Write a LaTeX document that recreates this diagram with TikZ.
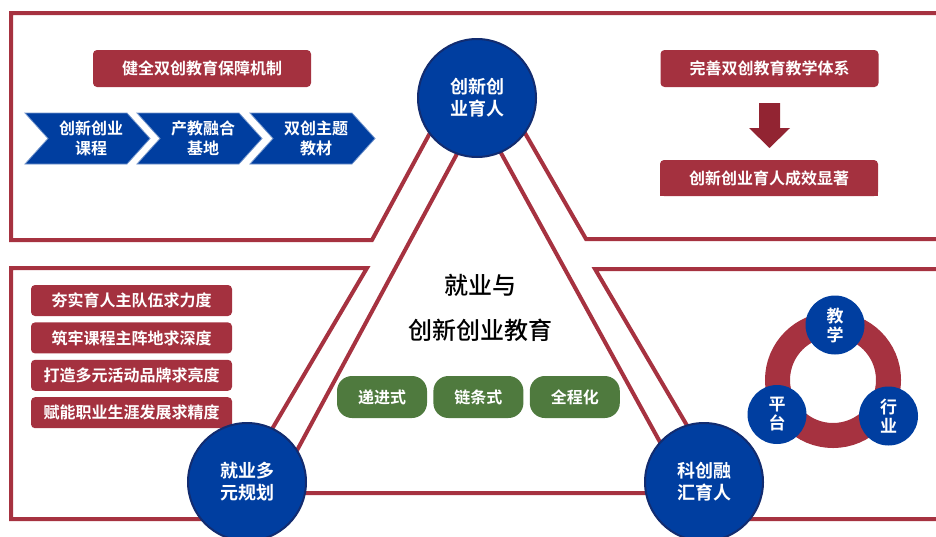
\documentclass[tikz,border=0pt]{standalone}
\usepackage{fontspec}
\setmainfont{Noto Sans CJK SC}[BoldFont={Noto Sans CJK SC Bold}]
\newfontfamily\cjkmid{Noto Sans CJK SC Medium}
\usetikzlibrary{positioning}
\definecolor{framered}{RGB}{166,50,64}
\definecolor{boxred}{RGB}{164,49,63}
\definecolor{arrowred}{RGB}{146,36,50}
\definecolor{hubblue}{RGB}{0,62,160}
\definecolor{rimblue}{RGB}{18,44,112}
\definecolor{pillgreen}{RGB}{79,122,62}
\begin{document}
\begin{tikzpicture}[x=1pt,y=-1pt,
    frame/.style={draw=framered,line width=4pt,line join=miter},
    redbox/.style={fill=boxred,rounded corners=4pt,text=white,inner sep=0pt,
      minimum width=218pt,minimum height=37pt,font=\fontsize{16}{20}\selectfont\bfseries},
    sidebox/.style={redbox,minimum width=201pt,minimum height=31pt},
    pill/.style={fill=pillgreen,rounded corners=15pt,text=white,inner sep=0pt,
      minimum width=90pt,minimum height=42pt,font=\fontsize{16}{20}\selectfont\bfseries},
    hub/.style={circle,fill=hubblue,draw=rimblue,line width=2pt,minimum size=118pt,
      inner sep=0pt,text=white,align=center,font=\fontsize{18}{22}\selectfont\bfseries},
    spoke/.style={circle,fill=hubblue,minimum size=59pt,inner sep=0pt,text=white,
      align=center,font=\fontsize{17}{19}\selectfont\bfseries},
    chev/.style={fill=hubblue,draw=hubblue!55!white,line width=0.8pt},
    chevtext/.style={text=white,align=center,font=\fontsize{16}{20}\selectfont\bfseries},
    title/.style={text=black,font=\fontsize{24}{28}\selectfont\cjkmid}]
  \useasboundingbox (0,0) rectangle (936,536);
  \draw[frame] (11,13) -- (945,13) -- (945,239) -- (586,239) -- (476,48) -- (372,240) -- (11,240) -- cycle;
  \draw[frame] (11,268) -- (367,268) -- (219,519) -- (11,519) -- cycle;
  \draw[frame] (595,269) -- (945,269) -- (945,519) -- (742,519) -- cycle;
  \coordinate (apex) at (479,113);
  \coordinate (baseL) at (274,493);
  \coordinate (baseR) at (688,493);
  \draw[frame] (apex) -- (baseL) -- (baseR) -- cycle;

  \node[redbox] (guarantee) at (202,68.5) {健全双创教育保障机制};
  \foreach \x/\txt/\nm in {25/{创新创业\\课程}/course,137/{产教融合\\基地}/base,250/{双创主题\\教材}/book}{
    \draw[chev] (\x,113) -- ++(102,0) -- ++(23,25.5) -- ++(-23,25.5) -- ++(-102,0) -- ++(23,-25.5) -- cycle;
    \node[chevtext] (\nm) at (\x+66,138.5) {\txt};
  }

  \node[redbox] (system) at (769.5,68.5) {完善双创教育教学体系};
  \fill[arrowred] (759,103) -- (780,103) -- (780,128) -- (790,128) -- (769.5,148) -- (749,128) -- (759,128) -- cycle;
  \fill[boxred] (660,178) rectangle (878,196);
  \node[redbox,minimum height=36pt] (effect) at (769,178) {创新创业育人成效显著};

  \node[sidebox] (team) at (131.5,300.5) {夯实育人主队伍求力度};
  \node[sidebox,below=6pt of team] (lesson) {筑牢课程主阵地求深度};
  \node[sidebox,below=6pt of lesson] (brand) {打造多元活动品牌求亮度};
  \node[sidebox,below=6pt of brand] (career) {赋能职业生涯发展求精度};

  \node[title] (head) at (480,285) {就业与};
  \node[title] (subject) at (480,330) {创新创业教育};
  \node[pill] (step1) at (382,397) {递进式};
  \node[pill,right=6pt of step1] (step2) {链条式};
  \node[pill,right=6pt of step2] (step3) {全程化};

  \draw[framered,line width=25pt] (833,380) circle[radius=55.5pt];
  \node[spoke] (teach) at (835,325) {教\\学};
  \node[spoke] (platform) at (777,414.5) {平\\台};
  \node[spoke] (industry) at (888.5,416) {行\\业};

  \node[hub] (cultivate) at (477,98) {创新创\\业育人};
  \node[hub] (plan) at (247,482) {就业多\\元规划};
  \node[hub] (fusion) at (704,482) {科创融\\汇育人};
\end{tikzpicture}
\end{document}
